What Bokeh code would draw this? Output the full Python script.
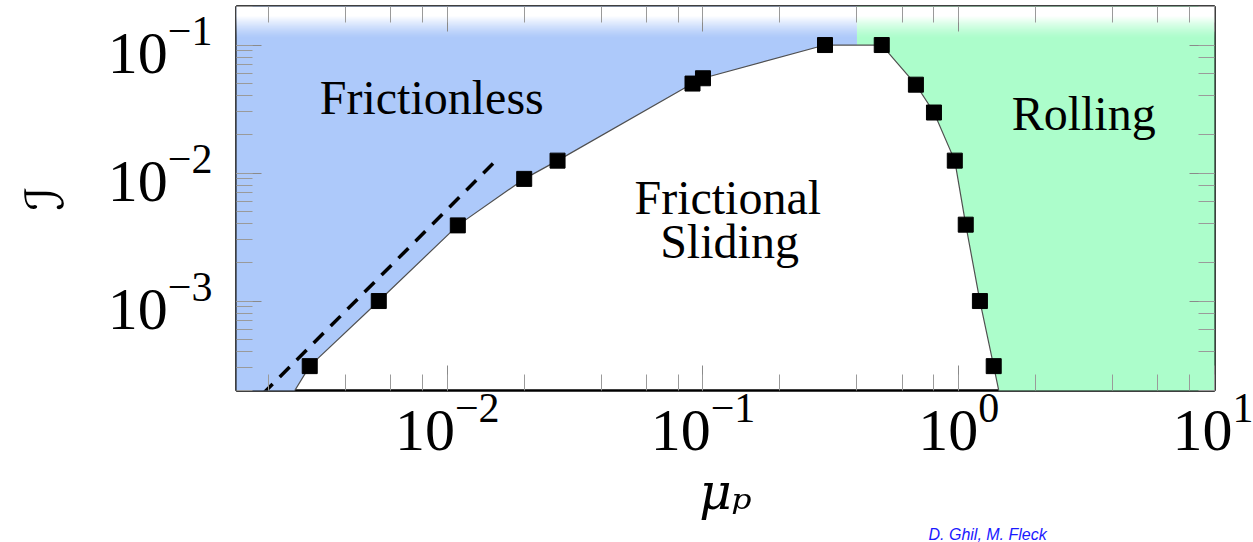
import numpy as np
from bokeh.plotting import figure
from bokeh.models import LogAxis, Label, Range1d, LogTicker, Title
from bokeh.embed import file_html
from bokeh.resources import INLINE

# ---------------- data ----------------
# left boundary (frictionless / frictional sliding)
left_mu = [0.00205, 0.0029, 0.0054, 0.011, 0.0200, 0.0270, 0.091, 0.100, 0.30]
left_I = [0.0001, 0.00031, 0.0010, 0.0039, 0.0090, 0.0125, 0.050, 0.055, 0.100]
# right boundary (frictional sliding / rolling)
right_mu = [0.50, 0.68, 0.80, 0.965, 1.065, 1.21, 1.37, 1.54]
right_I = [0.100, 0.049, 0.0297, 0.0125, 0.00395, 0.0010, 0.00031, 0.0001]
# split between frictionless and rolling region above the peak
split_mu = 0.4
# dashed scaling line I ~ mu^2
dash_mu = [0.0019, 0.0151]
dash_I = [0.000188, 0.01186]

x_lo, x_hi = 1.5e-3, 10.0
y_lo, y_hi = 2e-4, 0.2

BLUE = "#adc9fa"
GREEN = "#acfdcb"
SERIF = "Liberation Serif"

p = figure(width=1253, height=542, x_axis_type="log", y_axis_type="log",
           x_range=Range1d(x_lo, x_hi), y_range=Range1d(y_lo, y_hi),
           output_backend="svg", toolbar_location=None,
           min_border_left=236, min_border_right=39,
           min_border_top=6, min_border_bottom=151)
p.grid.visible = False
p.outline_line_color = "black"
p.outline_line_width = 2.5
p.background_fill_color = "white"
p.border_fill_color = "white"

# regions
far_lo_x, far_hi_x, far_hi_y = 1e-4, 1e3, 10.0
blue_x = [far_lo_x] + left_mu + [split_mu, split_mu, far_lo_x]
blue_y = [left_I[0]] + left_I + [left_I[-1], far_hi_y, far_hi_y]
p.patch(blue_x, blue_y, fill_color=BLUE, line_color=None)
green_x = [split_mu, split_mu] + right_mu + [far_hi_x, far_hi_x]
green_y = [far_hi_y, right_I[0]] + right_I + [right_I[-1], far_hi_y]
p.patch(green_x, green_y, fill_color=GREEN, line_color=None)

# top white fade as an RGBA gradient image
rows = 64
fade = np.zeros((rows, 1), dtype=np.uint32)
view = fade.view(dtype=np.uint8).reshape((rows, 1, 4))
for r in range(rows):
    t = 1.0 - (r + 0.5) / rows  # 0 at top, 1 at bottom
    a = 1.0 if t < 0.3 else max(0.0, 1.0 - (t - 0.3) / 0.7)
    a = a ** 1.3
    view[r, 0, 0] = 255
    view[r, 0, 1] = 255
    view[r, 0, 2] = 255
    view[r, 0, 3] = int(round(255 * a))
fade_bottom = 0.112
p.image_rgba(image=[fade], x=far_lo_x, y=fade_bottom,
             dw=far_hi_x - far_lo_x, dh=y_hi - fade_bottom)

# boundary line
bx = left_mu + right_mu
by = left_I + right_I
p.line(bx, by, line_color="#505050", line_width=1.2)
p.scatter(bx, by, marker="square", size=15, fill_color="black", line_color="black")

# dashed line
p.line(dash_mu, dash_I, line_color="black", line_width=3.5, line_dash="14 10")


def style_axis(ax, show_labels=True):
    ax.axis_line_color = None
    ax.major_tick_in = 25
    ax.major_tick_out = 0
    ax.minor_tick_in = 16
    ax.minor_tick_out = 0
    ax.major_tick_line_color = "#8a8a8a"
    ax.minor_tick_line_color = "#9a9a9a"
    ax.major_tick_line_width = 1
    ax.minor_tick_line_width = 1
    if show_labels:
        ax.major_label_text_font = SERIF
        ax.major_label_text_font_size = "60px"
        ax.major_label_text_color = "black"
    else:
        ax.major_label_text_font_size = "0px"
        ax.major_label_text_color = None


xa = p.xaxis[0]
ya = p.yaxis[0]
style_axis(xa)
style_axis(ya)
xa.ticker = LogTicker(desired_num_ticks=4)
xa.major_label_standoff = 4
xa.axis_label = "μₚ"
xa.axis_label_text_font = "DejaVu Serif"
xa.axis_label_text_font_style = "italic"
xa.axis_label_text_font_size = "50px"
xa.axis_label_text_color = "black"
xa.axis_label_standoff = 10
ya.major_label_standoff = 24
ya.axis_label = "ℐ"
ya.axis_label_text_font = "DejaVu Sans"
ya.axis_label_text_font_style = "normal"
ya.axis_label_text_font_size = "52px"
ya.axis_label_text_color = "black"
ya.axis_label_standoff = 30

top_ax = LogAxis()
right_ax = LogAxis()
style_axis(top_ax, False)
style_axis(right_ax, False)
top_ax.major_label_standoff = 0
right_ax.major_label_standoff = 0
p.add_layout(top_ax, "above")
p.add_layout(right_ax, "right")

# region labels
def region_label(x, y, text):
    p.add_layout(Label(x=x, y=y, text=text, text_align="center",
                       text_baseline="alphabetic", text_font=SERIF,
                       text_font_size="48px", text_color="black"))

region_label(0.0087, 0.0390, "Frictionless")
region_label(3.08, 0.0292, "Rolling")
region_label(0.125, 0.00648, "Frictional")
region_label(0.127, 0.00294, "Sliding")

# credit line at the bottom edge
credit = Title(text="D. Ghil, M. Fleck", align="left", offset=692, standoff=0,
               text_font="Liberation Sans", text_font_style="italic",
               text_font_size="16px", text_color="#1a1aff")
p.add_layout(credit, "below")

open("out.html", "w").write(file_html(p, INLINE))
